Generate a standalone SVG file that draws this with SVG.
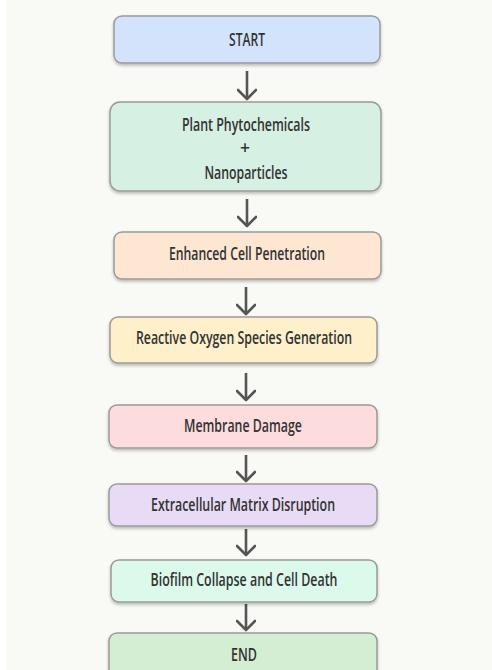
<svg xmlns="http://www.w3.org/2000/svg" width="492" height="670" viewBox="0 0 492 670">
<defs>
<filter id="sh" x="-10%" y="-20%" width="120%" height="150%">
<feDropShadow dx="0" dy="2" stdDeviation="1.5" flood-color="#000" flood-opacity="0.25"/>
</filter>
<marker id="ah" viewBox="0 0 20 20" refX="18" refY="10" markerWidth="20" markerHeight="20" markerUnits="userSpaceOnUse" orient="auto">
<path d="M9,1 L18,10 L9,19" fill="none" stroke="#555" stroke-width="2.6" stroke-linecap="round" stroke-linejoin="round"/>
</marker>
</defs>
<style>
.box{stroke:#9a9a9a;stroke-width:1.5;filter:url(#sh)}
.t{font-family:"Open Sans","Liberation Sans",sans-serif;font-weight:600;font-size:17.5px;fill:#333;text-anchor:middle}
.c line{stroke:#555;stroke-width:2.6;marker-end:url(#ah)}
</style>
<rect x="0" y="0" width="492" height="670" fill="#f9f9f5"/>
<rect x="0" y="0" width="6" height="670" fill="#ffffff"/>
<g class="c" id="connectors">
<line x1="247" y1="71" x2="247" y2="99"/>
<line x1="247" y1="199" x2="247" y2="226"/>
<line x1="246" y1="287" x2="246" y2="314"/>
<line x1="246" y1="373" x2="246" y2="400"/>
<line x1="246" y1="455" x2="246" y2="481"/>
<line x1="246" y1="529" x2="246" y2="555"/>
<line x1="246" y1="604" x2="246" y2="630"/>
</g>
<g id="start"><rect class="box" x="114" y="16" width="266" height="47" rx="8" fill="#d3e3fc"/><text class="t" x="247" y="45.5" textLength="36" lengthAdjust="spacingAndGlyphs">START</text></g>
<g id="plant"><rect class="box" x="110" y="102" width="271" height="89" rx="10" fill="#d6f0e3"/>
<text class="t" x="246" y="131" textLength="128" lengthAdjust="spacingAndGlyphs">Plant Phytochemicals</text>
<text class="t" x="245" y="153.5">+</text>
<text class="t" x="246" y="178.5" textLength="83" lengthAdjust="spacingAndGlyphs">Nanoparticles</text></g>
<g id="enhanced"><rect class="box" x="114" y="232" width="267" height="47" rx="8" fill="#fde7d3"/><text class="t" x="247" y="259.5" textLength="156" lengthAdjust="spacingAndGlyphs">Enhanced Cell Penetration</text></g>
<g id="ros"><rect class="box" x="110" y="317" width="267" height="46" rx="8" fill="#fdf0cb"/><text class="t" x="244" y="344" textLength="216" lengthAdjust="spacingAndGlyphs">Reactive Oxygen Species Generation</text></g>
<g id="membrane"><rect class="box" x="109" y="405" width="268" height="43" rx="8" fill="#fcdcdc"/><text class="t" x="243" y="431.5" textLength="118" lengthAdjust="spacingAndGlyphs">Membrane Damage</text></g>
<g id="ecm"><rect class="box" x="109" y="484" width="268" height="42" rx="8" fill="#e7dbf5"/><text class="t" x="243" y="510.5" textLength="184" lengthAdjust="spacingAndGlyphs">Extracellular Matrix Disruption</text></g>
<g id="biofilm"><rect class="box" x="111" y="560" width="266" height="42" rx="8" fill="#dcfaeb"/><text class="t" x="244" y="586" textLength="187" lengthAdjust="spacingAndGlyphs">Biofilm Collapse and Cell Death</text></g>
<g id="end"><rect class="box" x="109" y="633" width="268" height="48" rx="8" fill="#d3eed3"/><text class="t" x="244" y="661" textLength="26" lengthAdjust="spacingAndGlyphs">END</text></g>
</svg>
